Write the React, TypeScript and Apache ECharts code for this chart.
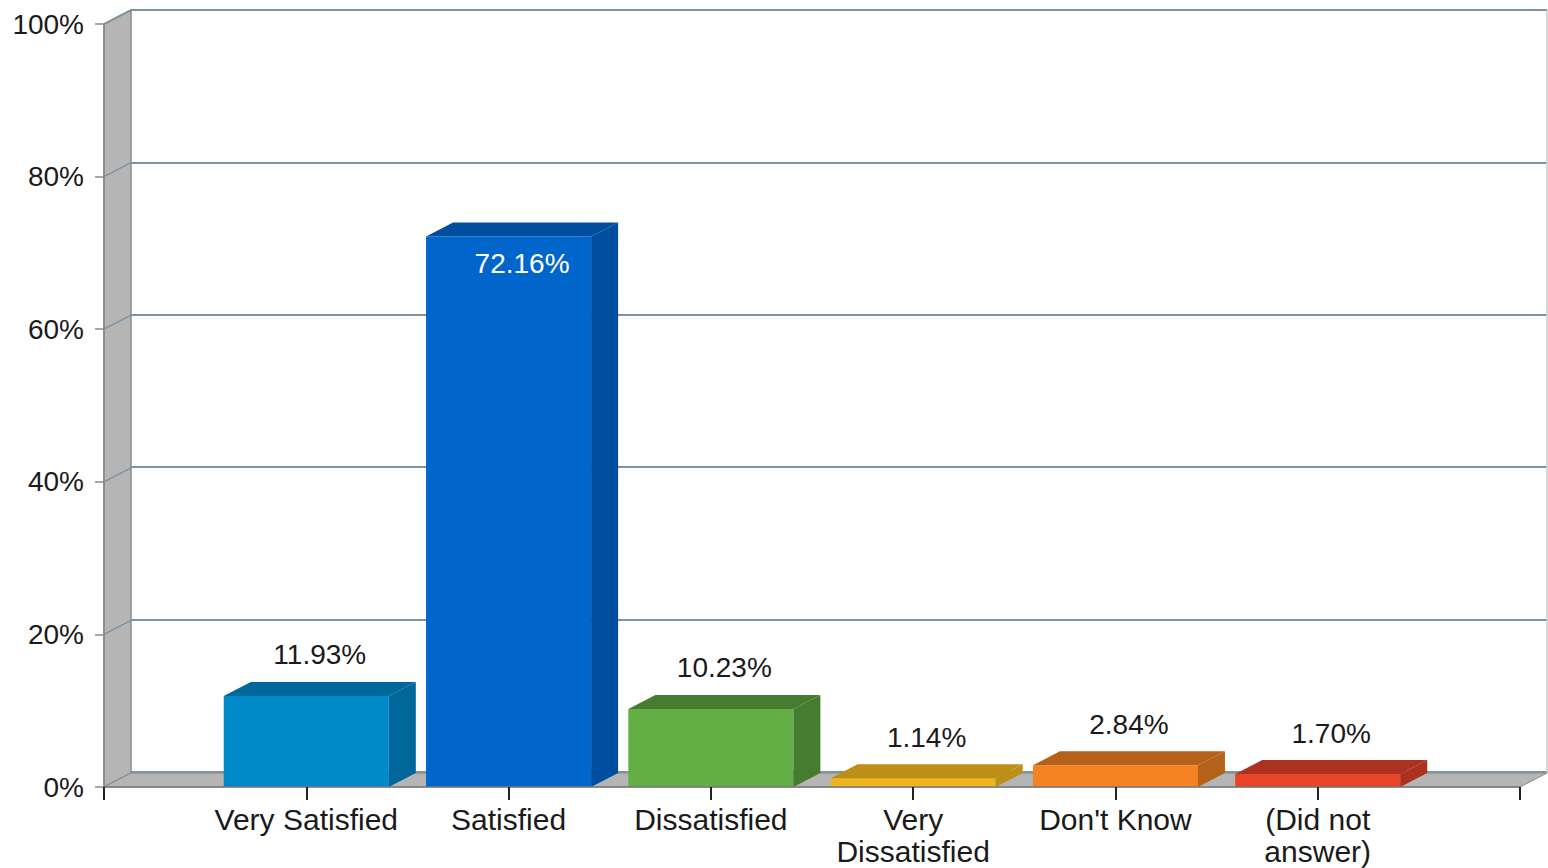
import React, { useEffect, useRef } from 'react';
import * as echarts from 'echarts';

const categories = ['', 'Very Satisfied', 'Satisfied', 'Dissatisfied', 'Very\nDissatisfied', "Don't Know", '(Did not\nanswer)', ''];
const barIndices = [1, 2, 3, 4, 5, 6];
const values = [11.93, 72.16, 10.23, 1.14, 2.84, 1.7];
const valueLabels = ['11.93%', '72.16%', '10.23%', '1.14%', '2.84%', '1.70%'];
const frontColors = ['#0089CA', '#0066CC', '#63AE45', '#F0B41E', '#F58220', '#E84428'];
const darkColors = ['#00679B', '#004F9F', '#457C2F', '#BC8F16', '#B6611A', '#AC3120'];
const yTicks = [0, 20, 40, 60, 80, 100];
const yMin = 0;
const yMax = 100;
const yInterval = 20;

const DX = 27;
const DY = -14;
const FONT = '"Liberation Sans", Arial, sans-serif';
const GRID_COLOR = '#7b93a4';

export default function App() {
  const ref = useRef<HTMLDivElement>(null);
  useEffect(() => {
    if (!ref.current) return;
    const chart = echarts.init(ref.current, null, { renderer: 'svg' });
    const barData = barIndices.map((i, k) => [i, values[k], k]);
    const option: any = {
      animation: false,
      backgroundColor: '#ffffff',
      grid: [
        { left: 104, right: 28, top: 24, bottom: 81 },
        { left: 131, right: 1, top: 10, bottom: 96 },
      ],
      xAxis: [
        {
          gridIndex: 0,
          type: 'category',
          data: categories,
          boundaryGap: false,
          axisLine: { show: true, lineStyle: { color: '#7a7a7a', width: 1.5 } },
          axisTick: { show: true, length: 13, lineStyle: { color: '#222', width: 2 }, interval: 0 },
          axisLabel: {
            interval: 0,
            margin: 16,
            color: '#1a1a1a',
            fontFamily: FONT,
            fontSize: 30,
            lineHeight: 32,
          },
          splitLine: { show: false },
          z: 5,
        },
        {
          gridIndex: 1,
          type: 'value',
          min: 0,
          max: 1,
          show: false,
        },
      ],
      yAxis: [
        {
          gridIndex: 0,
          type: 'value',
          min: yMin,
          max: yMax,
          interval: yInterval,
          axisLine: { show: true, lineStyle: { color: '#8a8a8a', width: 1.5 } },
          axisTick: { show: true, length: 9, lineStyle: { color: '#8a8a8a', width: 1.5 } },
          axisLabel: {
            formatter: '{value}%',
            margin: 20,
            color: '#1a1a1a',
            fontFamily: FONT,
            fontSize: 28,
          },
          splitLine: { show: false },
          z: 5,
        },
        {
          gridIndex: 1,
          type: 'value',
          min: yMin,
          max: yMax,
          interval: yInterval,
          axisLine: { show: false },
          axisTick: { show: false },
          axisLabel: { show: false },
          splitLine: { show: true, lineStyle: { color: GRID_COLOR, width: 2 } },
        },
      ],
      series: [
        {
          type: 'custom',
          xAxisIndex: 0,
          yAxisIndex: 0,
          clip: false,
          z: 1,
          data: [[0, 0]],
          renderItem: (params: any, api: any) => {
            const fb = api.coord([0, yMin]);
            const ft = api.coord([0, yMax]);
            const rb = api.coord([categories.length - 1, yMin]);
            const rt = api.coord([categories.length - 1, yMax]);
            const diag = yTicks.slice(1).map((t) => {
              const p = api.coord([0, t]);
              return {
                type: 'line',
                shape: { x1: p[0], y1: p[1], x2: p[0] + DX, y2: p[1] + DY },
                style: { stroke: GRID_COLOR, lineWidth: 1.5 },
              };
            });
            return {
              type: 'group',
              children: [
                {
                  type: 'polygon',
                  shape: {
                    points: [
                      [fb[0], fb[1]],
                      [ft[0], ft[1]],
                      [ft[0] + DX, ft[1] + DY],
                      [fb[0] + DX, fb[1] + DY],
                    ],
                  },
                  style: { fill: '#b5b5b5', stroke: '#8a8a8a', lineWidth: 1.5 },
                },
                ...diag,
                {
                  type: 'line',
                  shape: { x1: rt[0] + DX, y1: rt[1] + DY, x2: rb[0] + DX, y2: rb[1] + DY },
                  style: { stroke: '#c8c8c8', lineWidth: 1.5 },
                },
                {
                  type: 'polygon',
                  shape: {
                    points: [
                      [fb[0], fb[1]],
                      [rb[0], rb[1]],
                      [rb[0] + DX, rb[1] + DY],
                      [fb[0] + DX, fb[1] + DY],
                    ],
                  },
                  style: { fill: '#b5b5b5', stroke: '#8a8a8a', lineWidth: 1 },
                },
              ],
            };
          },
        },
        {
          type: 'custom',
          xAxisIndex: 0,
          yAxisIndex: 0,
          clip: false,
          z: 3,
          data: barData,
          renderItem: (params: any, api: any) => {
            const idx = api.value(0);
            const v = api.value(1);
            const k = api.value(2);
            const base = api.coord([idx, 0]);
            const top = api.coord([idx, v]);
            const next = api.coord([idx + 1, 0]);
            const band = next[0] - base[0];
            const hw = band * 0.408;
            const x0 = base[0] - hw;
            const x1 = base[0] + hw;
            const yb = base[1];
            const yt = top[1];
            const inside = v > 50;
            return {
              type: 'group',
              children: [
                {
                  type: 'polygon',
                  shape: { points: [[x0, yb], [x1, yb], [x1, yt], [x0, yt]] },
                  style: { fill: frontColors[k] },
                },
                {
                  type: 'polygon',
                  shape: { points: [[x0, yt], [x1, yt], [x1 + DX, yt + DY], [x0 + DX, yt + DY]] },
                  style: { fill: darkColors[k] },
                },
                {
                  type: 'polygon',
                  shape: { points: [[x1, yb], [x1 + DX, yb + DY], [x1 + DX, yt + DY], [x1, yt]] },
                  style: { fill: darkColors[k] },
                },
                {
                  type: 'text',
                  style: {
                    text: valueLabels[k],
                    x: base[0] + DX / 2,
                    y: inside ? yt + 27 : yt + DY - 27,
                    align: 'center',
                    verticalAlign: 'middle',
                    fill: inside ? '#ffffff' : '#1a1a1a',
                    font: `28px ${FONT}`,
                  },
                },
              ],
            };
          },
        },
      ],
    };
    chart.setOption(option);
    return () => chart.dispose();
  }, []);
  return (
    <div
      ref={ref}
      style={{ position: 'absolute', left: 0, top: 0, width: 1548, height: 868 }}
    />
  );
}
